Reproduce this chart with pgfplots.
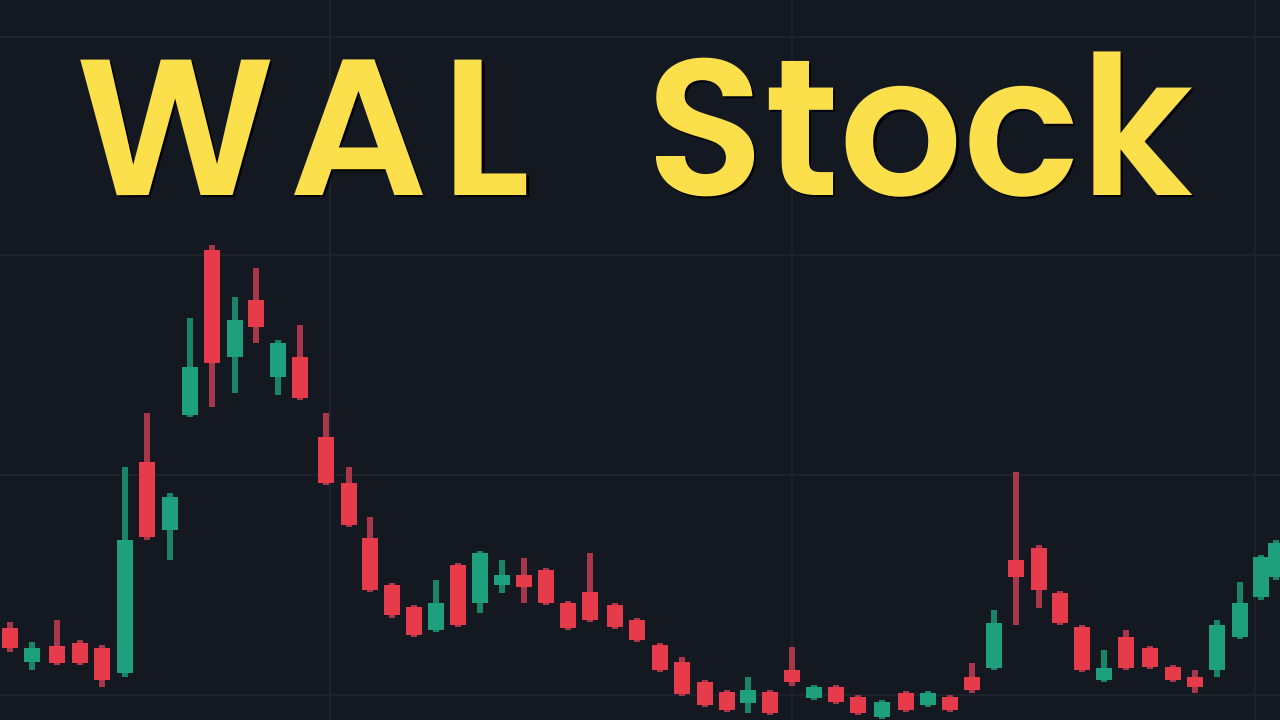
\documentclass[border=0pt]{standalone}
\usepackage{pgfplots}
\pgfplotsset{compat=1.18}
\usepackage{pgfplotstable}
\usepackage{fontspec}
\setmainfont{Poppins}
\newfontfamily\titlefont{Poppins SemiBold}

\definecolor{bg}{HTML}{141821}
\definecolor{gridc}{HTML}{1D222D}
\definecolor{upc}{HTML}{1EA07D}
\definecolor{upwick}{HTML}{1A8468}
\definecolor{dnc}{HTML}{E63B4B}
\definecolor{dnwick}{HTML}{A8374A}
\definecolor{ttl}{HTML}{FBE04B}

% candles in screen units: x, high, body top, body bottom, low (y grows downward)
\pgfplotstableread{
x hi btop bbot lo
10 622 628 648 652
57 620 646 663 665
80 640 643 663 665
102 645 648 680 687
147 413 462 537 540
212 245 250 363 407
256 268 300 327 343
300 325 357 398 400
326 413 437 483 485
349 467 483 525 527
370 517 538 590 592
392 583 585 615 618
414 605 607 635 637
458 563 565 625 627
524 558 575 587 603
546 568 570 603 605
568 601 603 628 630
590 553 592 620 622
615 603 605 627 629
637 618 620 640 642
660 643 645 670 672
682 657 662 694 696
705 680 682 705 707
727 690 692 710 712
770 690 692 713 715
792 647 670 682 686
836 685 687 702 704
858 695 697 713 715
906 691 693 710 712
950 695 697 710 712
972 663 677 690 693
1016 472 560 577 625
1039 545 548 590 608
1060 591 593 623 625
1082 625 627 670 672
1126 630 637 668 670
1150 646 648 667 669
1173 665 667 680 682
1195 670 677 687 693
}\downtbl

\pgfplotstableread{
x hi btop bbot lo
32 642 648 662 670
125 467 540 673 677
170 493 497 530 560
190 318 367 415 417
235 297 320 357 393
278 340 343 377 395
436 580 603 630 632
480 551 553 603 613
502 560 575 585 593
748 677 690 703 713
814 685 687 698 700
882 700 702 717 719
928 691 693 705 707
994 610 623 668 670
1104 650 668 680 682
1217 620 625 670 677
1240 582 603 637 639
1261 555 557 597 600
1276 540 543 577 580
}\uptbl

\tikzset{ttlnode/.style={anchor=base west, inner sep=0pt,
  font=\titlefont\fontsize{97}{104}\selectfont}}
\newcommand\wal{W\kern7pt A\kern7pt L}

\begin{document}
\begin{tikzpicture}
\begin{axis}[
  name=ax,
  width=640pt, height=360pt,
  scale only axis,
  xmin=0, xmax=1280, ymin=0, ymax=720,
  y dir=reverse,
  axis background/.style={fill=bg},
  axis line style={draw=none},
  xtick={330,792,1255}, ytick={37,255,475,695},
  xticklabels={}, yticklabels={},
  major tick length=0pt,
  grid=major,
  major grid style={gridc, line width=1.2pt},
  clip=true,
]
% wicks
\addplot[draw=none, mark=none, forget plot,
  error bars/.cd, y dir=both, y explicit, error mark=none,
  error bar style={draw=dnwick, solid, line width=3.2pt}]
  table[x=x, y expr=(\thisrow{hi}+\thisrow{lo})/2,
        y error expr=(\thisrow{lo}-\thisrow{hi})/2] {\downtbl};
\addplot[draw=none, mark=none, forget plot,
  error bars/.cd, y dir=both, y explicit, error mark=none,
  error bar style={draw=upwick, solid, line width=3.2pt}]
  table[x=x, y expr=(\thisrow{hi}+\thisrow{lo})/2,
        y error expr=(\thisrow{lo}-\thisrow{hi})/2] {\uptbl};
% bodies
\addplot[draw=none, mark=none, forget plot,
  error bars/.cd, y dir=both, y explicit, error mark=none,
  error bar style={draw=dnc, solid, line width=8.4pt}]
  table[x=x, y expr=(\thisrow{btop}+\thisrow{bbot})/2,
        y error expr=(\thisrow{bbot}-\thisrow{btop})/2] {\downtbl};
\addplot[draw=none, mark=none, forget plot,
  error bars/.cd, y dir=both, y explicit, error mark=none,
  error bar style={draw=upc, solid, line width=8.4pt}]
  table[x=x, y expr=(\thisrow{btop}+\thisrow{bbot})/2,
        y error expr=(\thisrow{bbot}-\thisrow{btop})/2] {\uptbl};

% title, with a dark shadow
\node[ttlnode, text=black, xshift=1.2pt, yshift=-1.2pt] at (axis cs:76,195) {\wal};
\node[ttlnode, text=black, xshift=1.2pt, yshift=-1.2pt] at (axis cs:646,195) {Stock};
\node[ttlnode, text=ttl] at (axis cs:76,195) {\wal};
\node[ttlnode, text=ttl] at (axis cs:646,195) {Stock};
\end{axis}
\pgfresetboundingbox
\path[use as bounding box] (ax.south west) rectangle (ax.north east);
\end{tikzpicture}
\end{document}
